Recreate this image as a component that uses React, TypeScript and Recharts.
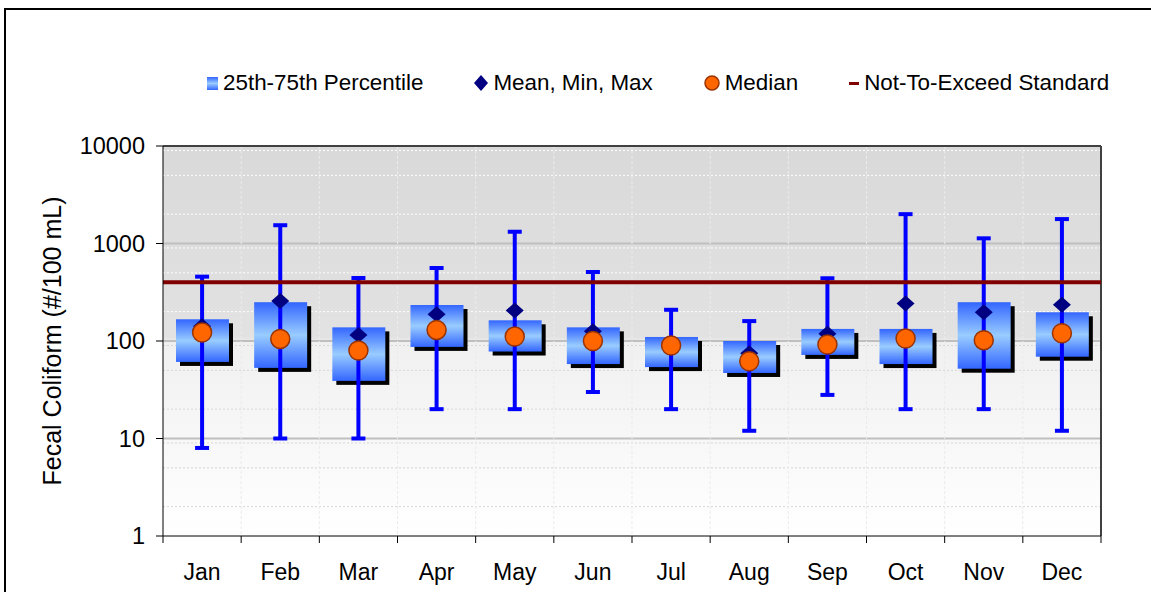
import React from 'react';
import { ComposedChart, Bar, Scatter, ErrorBar, XAxis, YAxis, CartesianGrid, ReferenceLine } from 'recharts';

const months = ['Jan', 'Feb', 'Mar', 'Apr', 'May', 'Jun', 'Jul', 'Aug', 'Sep', 'Oct', 'Nov', 'Dec'];
const p25 = [61, 53, 39, 87, 78, 58, 54, 47, 72, 58, 52, 69];
const p75 = [167, 250, 138, 234, 163, 138, 110, 100, 133, 133, 250, 197];
const means = [142, 257, 115, 188, 206, 126, 90, 75, 119, 243, 197, 236];
const mins = [8, 10, 10, 20, 20, 30, 20, 12, 28, 20, 20, 12];
const maxs = [457, 1540, 443, 561, 1320, 510, 209, 160, 440, 2000, 1130, 1780];
const medians = [122, 105, 80, 130, 111, 100, 90, 62, 92, 106, 102, 120];
const standard = 400;
const yTicks = [1, 10, 100, 1000, 10000];

const data = months.map((m, i) => ({
  month: m,
  iqr: [p25[i], p75[i]],
  mean: means[i],
  whisker: [means[i] - mins[i], maxs[i] - means[i]],
  median: medians[i],
}));

// minor log grid lines (2..9 in each decade)
const minorUpper: number[] = [];
const minorLower: number[] = [];
[1, 10, 100, 1000].forEach((d) => {
  for (let k = 2; k <= 9; k++) {
    const v = d * k;
    if (v > 100) minorUpper.push(v);
    else minorLower.push(v);
  }
});

const FONT = '"Liberation Sans", Arial, sans-serif';

const BoxShape = (props: any) => {
  const { x, y, width, height } = props;
  if (height == null) return null;
  return (
    <g>
      <rect x={x + 4} y={y + 4} width={width} height={height} fill="#000" />
      <rect x={x} y={y} width={width} height={height} fill="url(#boxGrad)" />
    </g>
  );
};

const Diamond = (props: any) => {
  const { cx, cy } = props;
  return <polygon points={`${cx},${cy - 8} ${cx + 9},${cy} ${cx},${cy + 8} ${cx - 9},${cy}`} fill="#000080" />;
};

const MedianDot = (props: any) => {
  const { cx, cy } = props;
  return <circle cx={cx} cy={cy} r={9.5} fill="#ff6600" stroke="#993300" strokeWidth={1.5} />;
};

const MonthTick = (props: any) => {
  const { x, y, payload, index } = props;
  const half = payload.offset || 0;
  return (
    <g>
      <line x1={x - half} x2={x - half} y1={y} y2={y + 7} stroke="#000" />
      {index === months.length - 1 && <line x1={x + half} x2={x + half} y1={y} y2={y + 7} stroke="#000" />}
      <text x={x} y={y + 44} textAnchor="middle" fill="#000" fontSize={23} fontFamily={FONT}>
        {payload.value}
      </text>
    </g>
  );
};

const YLabel = (props: any) => {
  const vb = props.viewBox || {};
  const cx = (vb.x || 0) + 52;
  const cy = (vb.y || 0) + (vb.height || 0) / 2;
  return (
    <text x={cx} y={cy} transform={`rotate(-90 ${cx} ${cy})`} textAnchor="middle" dominantBaseline="central" fontSize={25} fontFamily={FONT} fill="#000">
      Fecal Coliform (#/100 mL)
    </text>
  );
};

const boundaries = ({ offset }: any) => months.map((_, i) => offset.left + (i * offset.width) / months.length).slice(1);
const rightEdge = ({ offset }: any) => [offset.left + offset.width];

const legendItems = [
  { label: '25th-75th Percentile', icon: <div style={{ width: 11, height: 13, background: 'linear-gradient(#3366ff, #99ccff 50%, #3366ff)' }} /> },
  { label: 'Mean, Min, Max', icon: <svg width={14} height={16}><polygon points="7,0 14,8 7,16 0,8" fill="#000080" /></svg> },
  { label: 'Median', icon: <svg width={16} height={16}><circle cx={8} cy={8} r={7} fill="#ff6600" stroke="#993300" strokeWidth={1.5} /></svg> },
  { label: 'Not-To-Exceed Standard', icon: <div style={{ width: 10, height: 3, background: '#800000' }} /> },
];

export default function App() {
  return (
    <div style={{ position: 'relative', width: 1151, height: 592, overflow: 'hidden', background: '#fff' }}>
      <style>{`body{margin:0;overflow:hidden}`}</style>
      <svg width={0} height={0} style={{ position: 'absolute' }}>
        <defs>
          <linearGradient id="plotBg" x1="0" y1="0" x2="0" y2="1">
            <stop offset="0" stopColor="#d9d9d9" />
            <stop offset="0.49" stopColor="#e2e2e2" />
            <stop offset="0.505" stopColor="#f0f0f0" />
            <stop offset="1" stopColor="#ffffff" />
          </linearGradient>
          <linearGradient id="boxGrad" x1="0" y1="0" x2="0" y2="1">
            <stop offset="0" stopColor="#3366ff" />
            <stop offset="0.5" stopColor="#99ccff" />
            <stop offset="1" stopColor="#3366ff" />
          </linearGradient>
        </defs>
      </svg>
      <div style={{ position: 'absolute', left: 4, top: 8, width: 1300, height: 800, border: '2px solid #000' }} />
      <div style={{ position: 'absolute', left: 207, top: 72, display: 'flex', alignItems: 'center', fontFamily: FONT, fontSize: 22.4, lineHeight: '22px', color: '#000' }}>
        {legendItems.map((it, i) => (
          <div key={it.label} style={{ display: 'flex', alignItems: 'center', marginRight: i < legendItems.length - 1 ? 51 : 0 }}>
            <div style={{ marginRight: 5, display: 'flex' }}>{it.icon}</div>
            <span>{it.label}</span>
          </div>
        ))}
      </div>
      <div style={{ position: 'absolute', left: 0, top: 0 }}>
        <ComposedChart width={1151} height={592} data={data} margin={{ top: 146, right: 50, bottom: 0, left: 0 }}>
          <CartesianGrid fill="url(#plotBg)" vertical={false} horizontalValues={[10, 100, 1000]} stroke="#bfbfbf" strokeWidth={2} />
          <CartesianGrid vertical={false} horizontalValues={minorUpper} stroke="#ffffff" strokeDasharray="2 2" />
          <CartesianGrid vertical={false} horizontalValues={minorLower} stroke="#d6d6d6" strokeDasharray="2 2" />
          <CartesianGrid horizontal={false} verticalCoordinatesGenerator={boundaries} stroke="#ebebeb" strokeDasharray="3 2" />
          <CartesianGrid vertical={false} horizontalValues={[10000]} stroke="#404040" strokeWidth={2} />
          <CartesianGrid horizontal={false} verticalCoordinatesGenerator={rightEdge} stroke="#404040" strokeWidth={2} />
          <XAxis dataKey="month" height={56} tickLine={false} tickSize={0} tickMargin={0} tick={<MonthTick />} axisLine={{ stroke: '#000' }} interval={0} />
          <YAxis
            scale="log"
            domain={[1, 10000]}
            ticks={yTicks}
            allowDataOverflow
            width={163}
            tickSize={7}
            tickMargin={11}
            tick={{ fill: '#000', fontSize: 23.5, fontFamily: FONT }}
            tickLine={{ stroke: '#000' }}
            axisLine={{ stroke: '#000' }}
            label={{ content: <YLabel /> }}
          />
          <Bar dataKey="iqr" barSize={53} shape={<BoxShape />} isAnimationActive={false} />
          <Scatter dataKey="mean" shape={<Diamond />} isAnimationActive={false}>
            <ErrorBar dataKey="whisker" direction="y" width={7} strokeWidth={4} stroke="#0000ff" />
          </Scatter>
          <Scatter dataKey="median" shape={<MedianDot />} isAnimationActive={false} />
          <ReferenceLine y={standard} stroke="#800000" strokeWidth={4} />
        </ComposedChart>
      </div>
    </div>
  );
}
